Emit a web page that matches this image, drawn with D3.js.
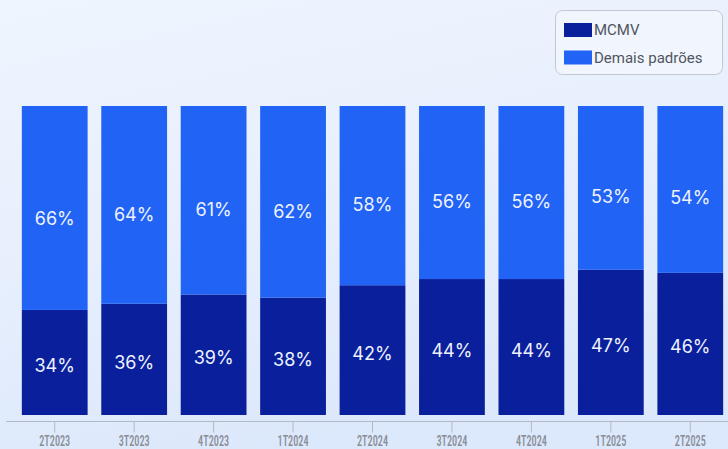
<!DOCTYPE html>
<html>
<head>
<meta charset="utf-8">
<script src="https://cdn.jsdelivr.net/npm/d3@7/dist/d3.min.js"></script>
<style>
  html, body { margin: 0; padding: 0; background: #eaf1fd; }
  svg { display: block; }
</style>
</head>
<body>
<svg id="chart" width="728" height="449"></svg>
<script>
const categories = ["2T2023", "3T2023", "4T2023", "1T2024", "2T2024", "3T2024", "4T2024", "1T2025", "2T2025"];
const mcmv   = [34, 36, 39, 38, 42, 44, 44, 47, 46];
const demais = [66, 64, 61, 62, 58, 56, 56, 53, 54];
const seriesNames = ["MCMV", "Demais padrões"];
const colors = ["#0a1f9c", "#2163f5"];

const W = 728, H = 449;
const svg = d3.select("#chart");

// background
const defs = svg.append("defs");
const grad = defs.append("linearGradient").attr("id", "bg").attr("x1", 0).attr("y1", 0).attr("x2", 0.35).attr("y2", 1);
grad.append("stop").attr("offset", "0%").attr("stop-color", "#eff5fe");
grad.append("stop").attr("offset", "55%").attr("stop-color", "#e7effd");
grad.append("stop").attr("offset", "100%").attr("stop-color", "#dce8fb");
svg.append("rect").attr("width", W).attr("height", H).attr("fill", "url(#bg)");

const data = categories.map((c, i) => ({ cat: c, MCMV: mcmv[i], "Demais padrões": demais[i] }));
const stack = d3.stack().keys(seriesNames)(data);

const x = d3.scaleBand().domain(categories).range([15, 730]).paddingInner(0.172).paddingOuter(0.086);
const y = d3.scaleLinear().domain([0, 100]).range([415, 106]);
const color = d3.scaleOrdinal().domain(seriesNames).range(colors);

// bars
svg.append("g").selectAll("g").data(stack).join("g")
  .attr("fill", d => color(d.key))
  .selectAll("rect").data(d => d).join("rect")
  .attr("x", d => x(d.data.cat))
  .attr("width", x.bandwidth())
  .attr("y", d => y(d[1]))
  .attr("height", d => y(d[0]) - y(d[1]));

// labels
const labelG = svg.append("g")
  .attr("font-family", "Inter, 'Open Sans', sans-serif")
  .attr("font-size", 18)
  .attr("fill", "#eef2ff")
  .attr("text-anchor", "middle")
  .attr("dominant-baseline", "central");
stack.forEach((s, si) => {
  labelG.selectAll(null).data(s).join("text")
    .attr("x", d => x(d.data.cat) + x.bandwidth() / 2)
    .attr("y", d => si === 0 ? y((d[0] + d[1]) / 2) + 3 : y(d[0] + (d[1] - d[0]) * 0.45))
    .text(d => (d[1] - d[0]) + "%");
});

// x axis
const axisY = 421.5;
const axis = svg.append("g").attr("transform", `translate(0,${axisY})`)
  .call(d3.axisBottom(x).tickSize(11).tickPadding(4));
axis.select(".domain").remove();
axis.selectAll(".tick line").attr("stroke", "#b4b8c2");
axis.selectAll(".tick text")
  .attr("fill", "#898c95")
  .attr("font-family", "'Liberation Sans Narrow', 'Roboto Condensed', 'DejaVu Sans Condensed', sans-serif")
  .attr("font-size", 14)
  .attr("font-weight", 500)
  .attr("textLength", 31)
  .attr("lengthAdjust", "spacingAndGlyphs");
svg.append("line")
  .attr("x1", 6).attr("x2", W)
  .attr("y1", axisY).attr("y2", axisY)
  .attr("stroke", "#b4b8c2").attr("stroke-width", 1.2);

// legend
const lg = svg.append("g");
lg.append("rect")
  .attr("x", 555.5).attr("y", 10.5).attr("width", 167).attr("height", 64).attr("rx", 7)
  .attr("fill", "#f1f6fe").attr("stroke", "#c3c7d0");
const items = lg.selectAll("g.item").data(seriesNames).join("g").attr("class", "item")
  .attr("transform", (d, i) => `translate(564,${23 + i * 27.5})`);
items.append("rect").attr("width", 28).attr("height", 14).attr("fill", d => color(d));
items.append("text")
  .attr("x", 30).attr("y", 7)
  .attr("dominant-baseline", "central")
  .attr("font-family", "Roboto, 'Liberation Sans', sans-serif")
  .attr("font-size", 15)
  .attr("fill", "#505560")
  .text(d => d);
</script>
</body>
</html>
